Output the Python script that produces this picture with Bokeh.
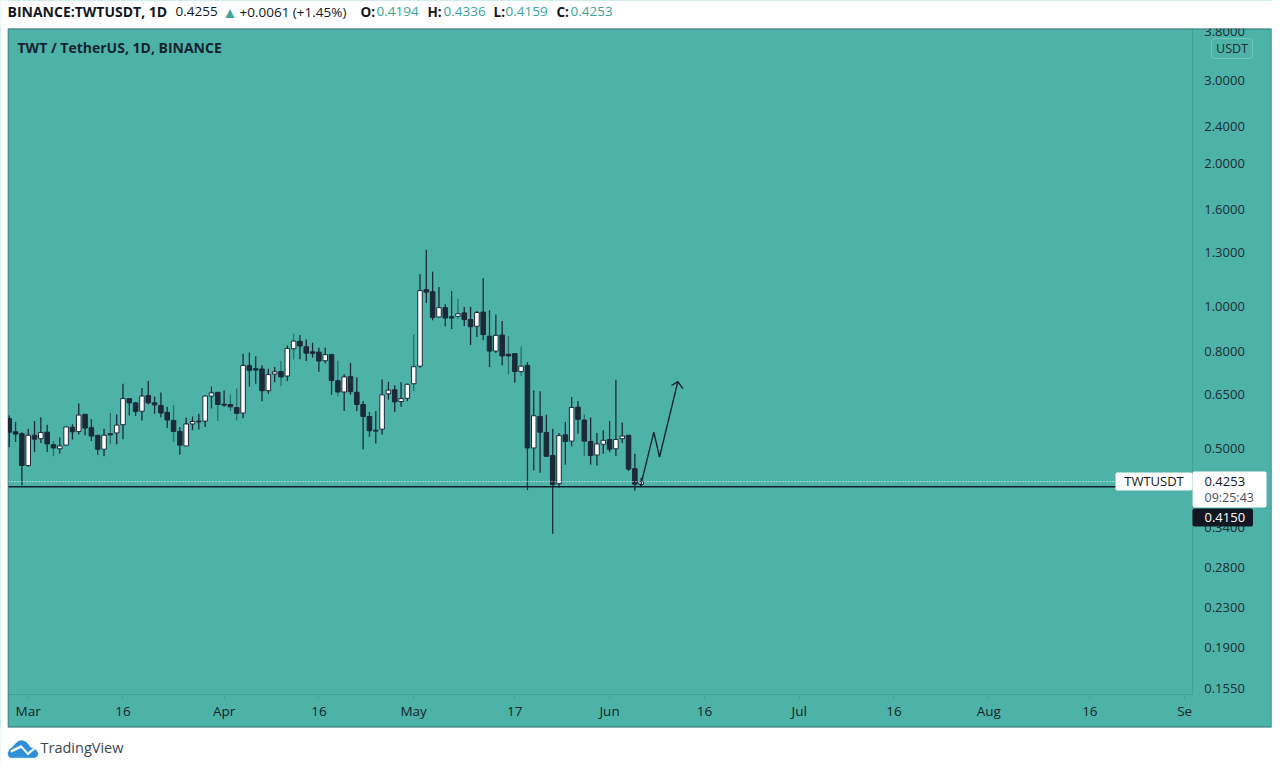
from bokeh.plotting import figure
from bokeh.models import ColumnDataSource, FixedTicker, NumeralTickFormatter, Range1d, BoxAnnotation, Label, PolyAnnotation, LogAxis, LinearAxis
from bokeh.embed import file_html
from bokeh.resources import INLINE

# days counted from 1 March
first_day = -3
highs = [.587,.569,.541,.550,.571,.582,.561,.518,.527,.555,.562,.622,.592,.576,.533,.550,.594,.590,.685,.638,.627,.671,.694,.644,.656,.612,.617,.555,.581,.584,.592,.647,.676,.657,.663,.650,.669,
         .793,.797,.783,.749,.737,.743,.765,.825,.874,.868,.849,.836,.816,.817,.790,.766,.717,.758,.707,.629,.597,.600,.699,.691,.680,.690,.685,.870,1.167,1.315,1.182,1.097,1.008,1.076,1.036,.995,.995,
         .976,1.144,.979,.960,.930,.863,.793,.821,.761,.663,.660,.589,.550,.539,.569,.642,.629,.589,.581,.539,.546,.571,.698,.567,.533,.487,.4336]
tops = [.578,.542,.537,.533,.533,.540,.541,.509,.506,.555,.554,.588,.590,.553,.533,.533,.537,.560,.637,.637,.624,.645,.647,.624,.616,.596,.573,.543,.563,.570,.571,.645,.655,.657,.620,.619,.610,
        .749,.748,.737,.736,.716,.726,.727,.813,.843,.842,.820,.800,.799,.789,.790,.695,.708,.709,.657,.619,.584,.546,.649,.664,.665,.637,.683,.744,1.078,1.083,1.072,.992,.992,.949,.963,.967,.936,
        .969,.971,.863,.867,.868,.791,.793,.746,.749,.586,.584,.540,.483,.532,.534,.610,.611,.574,.517,.511,.520,.522,.522,.531,.533,.453,.4253]
bottoms = [.541,.536,.460,.460,.523,.524,.511,.501,.499,.508,.542,.543,.552,.531,.498,.498,.534,.539,.561,.624,.598,.599,.624,.618,.594,.574,.543,.508,.506,.563,.569,.571,.645,.619,.617,.612,.593,
           .594,.731,.732,.662,.662,.718,.708,.711,.812,.823,.795,.794,.765,.766,.696,.658,.658,.659,.619,.584,.545,.544,.549,.652,.627,.628,.638,.685,.746,1.070,.946,.948,.943,.943,.951,.936,.904,
           .906,.870,.803,.803,.784,.784,.727,.727,.501,.501,.541,.481,.419,.421,.517,.518,.576,.518,.483,.484,.510,.498,.499,.524,.452,.420,.4194]
lows = [.503,.516,.418,.457,.491,.513,.491,.481,.487,.508,.522,.535,.533,.518,.485,.481,.510,.510,.523,.587,.585,.573,.620,.592,.582,.552,.516,.485,.506,.546,.548,.555,.607,.571,.612,.600,.573,
        .579,.676,.685,.629,.652,.690,.677,.694,.771,.772,.765,.778,.726,.757,.649,.644,.600,.649,.600,.498,.529,.512,.535,.634,.597,.612,.629,.661,.740,1.015,.933,.945,.906,.894,.940,.907,.827,
        .860,.846,.743,.795,.749,.717,.688,.711,.408,.449,.444,.480,.330,.413,.462,.505,.537,.481,.462,.460,.487,.491,.482,.513,.448,.407,.4159]
up_candles = [4,6,9,10,12,16,18,19,22,29,30,32,33,38,42,43,45,46,51,54,60,61,63,64,65,66,69,72,75,78,82,84,88,90,94,95,97,98,101]
faint_wick_candles = [8,17,27,34,36,37,44,46,53,65,72,80,82,92]

arrow_days = [96.9, 99.0, 99.9, 102.8]
arrow_prices = [.4159, .541, .479, .692]
arrow_head_days = [101.8, 102.8, 103.6]
arrow_head_prices = [.679, .692, .669]

support_price = 0.415
last_price = 0.4253
price_ticks = [3.8, 3.0, 2.4, 2.0, 1.6, 1.3, 1.0, 0.8, 0.65, 0.5, 0.34, 0.28, 0.23, 0.19, 0.155]
tick_days = [0, 15, 31, 46, 61, 77, 92, 107, 122, 137, 152, 168, 183]
tick_labels = ["Mar", "16", "Apr", "16", "May", "17", "Jun", "16", "Jul", "16", "Aug", "16", "Se"]

TEAL = "#4db3a9"
DARK = "#1c2a38"
INK = "#131722"
FAINT = "#2b6d70"
GREEN = "#3aa598"
FONT = "Open Sans"

# visible pane limits on the two scales
pane_day_left, pane_day_right = -3.117, 184.2
pane_price_low, pane_price_high = 0.1509, 3.861

n = len(highs)
days = [first_day + i for i in range(n)]
fills = ["#ffffff" if i + 1 in up_candles else DARK for i in range(n)]
wicks = [FAINT if i + 1 in faint_wick_candles else DARK for i in range(n)]
src = ColumnDataSource(dict(day=days, high=highs, low=lows, top=tops, bottom=bottoms, fill=fills, wick=wicks))

# the frame fills the whole canvas, so that page furniture can be placed anywhere
p = figure(width=1272, height=762, output_backend="svg", toolbar_location=None, y_axis_type="log",
           x_range=Range1d(-4.383, 196.9), y_range=Range1d(0.10834, 4.4253),
           x_axis_location=None, y_axis_location=None,
           min_border_left=0, min_border_right=0, min_border_top=0, min_border_bottom=0,
           outline_line_color=None, background_fill_color=TEAL, border_fill_color="#ffffff")
p.grid.visible = False

ya = LogAxis(fixed_location=pane_day_right, bounds=(pane_price_low, pane_price_high))
ya.ticker = FixedTicker(ticks=price_ticks)
ya.formatter = NumeralTickFormatter(format="0.0000")
ya.major_tick_line_color = None
ya.minor_tick_line_color = None
ya.axis_line_color = "#43a096"
ya.major_label_text_color = "#1d2b35"
ya.major_label_text_font = FONT
ya.major_label_text_font_size = "13px"
ya.major_label_standoff = 6
p.add_layout(ya, "right")

xa = LinearAxis(fixed_location=pane_price_low, bounds=(pane_day_left, pane_day_right))
xa.ticker = FixedTicker(ticks=tick_days)
xa.major_label_overrides = {d: t for d, t in zip(tick_days, tick_labels)}
xa.major_tick_line_color = "#43a096"
xa.major_tick_out = 4
xa.major_tick_in = 0
xa.minor_tick_line_color = None
xa.axis_line_color = "#43a096"
xa.major_label_text_color = "#131f2a"
xa.major_label_text_font = FONT
xa.major_label_text_font_size = "13.5px"
xa.major_label_standoff = 4
p.add_layout(xa, "below")

p.segment("day", "high", "day", "low", source=src, line_color="wick", line_width=1.3)
p.vbar(x="day", top="top", bottom="bottom", width=0.72, source=src, fill_color="fill", line_color=DARK, line_width=1)

p.line(arrow_days, arrow_prices, line_color="#14212c", line_width=1.4)
p.line(arrow_head_days, arrow_head_prices, line_color="#14212c", line_width=1.4)

p.line([pane_day_left, pane_day_right], [last_price, last_price], line_color="#ffffff", line_dash="1 2", line_width=1)
p.line([pane_day_left, pane_day_right], [support_price, support_price], line_color="#14212c", line_width=1.5)


def box(l, r, t, b, fill, line=None, radius=2, alpha=1.0):
    p.add_layout(BoxAnnotation(left=l, right=r, top=t, bottom=b,
                               left_units="canvas", right_units="canvas", top_units="canvas", bottom_units="canvas",
                               fill_color=fill, fill_alpha=alpha, line_color=line, line_width=1.5 if alpha == 0 else 1,
                               border_radius=radius, level="annotation"))


def txt(x, y, s, color=INK, size=13, style="normal", align="left", font=FONT):
    p.add_layout(Label(x=x, y=y, x_units="canvas", y_units="canvas", text=s, text_color=color,
                       text_font=font, text_font_size=f"{size}px", text_font_style=style,
                       text_align=align, text_baseline="middle", level="annotation"))


# white page around the teal panel, and the panel's dark frame
box(-3, 1275, -3, 28, "#ffffff", radius=0)
box(-3, 1275, 727, 765, "#ffffff", radius=0)
box(-3, 7.5, -3, 765, "#ffffff", radius=0)
box(1271, 1275, -3, 765, "#ffffff", radius=0)
box(7.5, 1271, 28.5, 726.5, TEAL, line="#20303a", radius=0, alpha=0)

# header line
txt(7, 11, "BINANCE:TWTUSDT, 1D", "#131722", 14, "bold")
txt(175, 11, "0.4255", "#131722", 13.5)
txt(222, 11, "▲", GREEN, 15)
txt(239, 11, "+0.0061 (+1.45%)", "#131722", 13.5)
for xl, lab, xv, val in [(360, "O:", 376, "0.4194"), (427, "H:", 443, "0.4336"),
                         (493, "L:", 505, "0.4159"), (556, "C:", 570, "0.4253")]:
    txt(xl, 11, lab, "#131722", 13.5, "bold")
    txt(xv, 11, val, GREEN, 13.5)

txt(17, 47, "TWT / TetherUS, 1D, BINANCE", "#16232e", 14, "bold")

# currency badge
box(1211, 1252, 38, 58, TEAL, line="#cfeae6", radius=4)
txt(1231.5, 47.5, "USDT", "#1d2b35", 12.5, align="center")

# price tags
box(1115, 1192, 472, 490, "#ffffff")
txt(1153.5, 480.5, "TWTUSDT", "#131722", 13, align="center")
box(1192, 1266, 471, 507, "#ffffff")
txt(1204, 480.5, "0.4253", "#131722", 13)
txt(1204, 496.5, "09:25:43", "#4a5058", 12.5)
box(1192, 1252.5, 508, 526, "#131722")
txt(1204, 516.5, "0.4150", "#ffffff", 13)

# TradingView mark
zx = lambda v: [a / 3 for a in v]
zy = lambda v: [690 + a / 3 for a in v]
p.add_layout(PolyAnnotation(xs=zx([22, 26, 36, 46, 56, 66, 76, 84, 90, 100, 108, 113, 110, 103, 30, 24]),
                            ys=zy([190, 178, 170, 158, 151, 150, 154, 162, 171, 174, 180, 190, 198, 202, 202, 197]),
                            xs_units="canvas", ys_units="canvas", fill_color="#2e90d8", fill_alpha=1,
                            line_color="#2e90d8", level="annotation"))
p.add_layout(PolyAnnotation(xs=zx([30, 62, 82, 108, 109, 82, 62, 32]),
                            ys=zy([180, 164, 186, 166, 171, 194, 172, 186]),
                            xs_units="canvas", ys_units="canvas", fill_color="#ffffff", fill_alpha=1,
                            line_color="#ffffff", level="annotation"))
txt(40, 747, "TradingView", "#3a4552", 14.5)

open("out.html", "w").write(file_html(p, INLINE))
